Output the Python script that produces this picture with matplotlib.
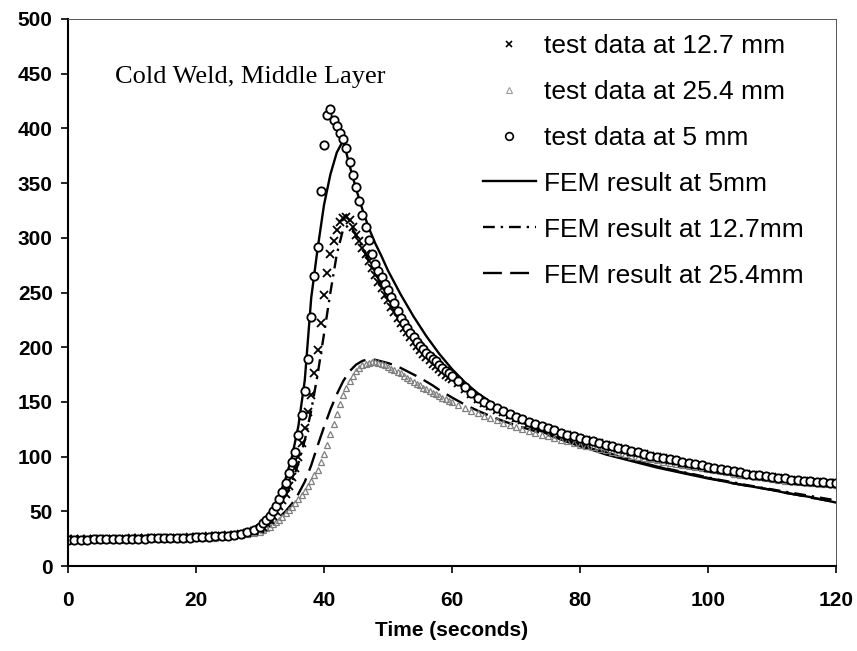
import numpy as np
import matplotlib
matplotlib.use("Agg")
import matplotlib.pyplot as plt
from matplotlib.lines import Line2D

plt.rcParams["font.family"] = ["Liberation Sans", "DejaVu Sans"]

# thermocouple logger clock (s): 1 s before the arc arrives, 0.5 s through the pass
t_test = np.concatenate([np.arange(0, 30, 1.0),
                         np.arange(30, 60.5, 0.5),
                         np.arange(61, 121, 1.0)])

# measured temperatures (C), middle layer of the cold weld
test_5mm = [
    24.0, 24.0, 24.0, 24.0, 24.5, 24.5, 24.5, 24.5, 25.0, 25.0,
    25.0, 25.0, 25.0, 25.5, 25.5, 25.5, 25.5, 26.0, 26.0, 26.0,
    26.5, 26.5, 26.5, 27.0, 27.0, 27.5, 28.5, 29.5, 31.0, 33.0,
    # 30 .. 60 s
    36, 39, 42, 46, 50, 55, 61, 68, 76, 85,
    95, 104, 120, 138, 160, 189, 228, 265, 292, 343,
    385, 412, 418, 408, 402, 396, 390, 382, 369, 357,
    346, 334, 321, 310, 298, 285, 276, 270, 264, 258,
    252, 246, 240, 233, 227, 222, 217.5, 213, 209, 205,
    201, 198, 195, 192, 189.5, 187, 184, 181, 178.5, 176,
    173.5,
    # 61 .. 120 s
    169, 163.5, 158, 154, 150, 147, 144, 141.5, 139, 136.5,
    134, 132, 130, 128, 126, 124, 122, 120, 118.5, 117,
    115.5, 114, 112.5, 111, 109.5, 108, 106.5, 105, 104, 102.5,
    101, 100, 99, 97.5, 96.5, 95, 94, 93, 92, 90.5,
    89.5, 88.5, 87.5, 86.5, 85.5, 84.5, 83.5, 83, 82, 81.5,
    80.5, 80, 79, 78.5, 78, 77.5, 77, 76.5, 76, 76,
]

test_12mm = [
    24.5, 24.5, 24.5, 24.5, 24.5, 25.0, 25.0, 25.0, 25.0, 25.0,
    25.5, 25.5, 25.5, 25.5, 25.5, 26.0, 26.0, 26.0, 26.0, 26.5,
    26.5, 26.5, 27.0, 27.0, 27.5, 28.0, 28.5, 29.5, 30.5, 32.0,
    34, 36, 39, 42, 46, 50, 55, 60, 66, 73,
    81, 90, 100, 112, 126, 141, 156, 176, 197, 222,
    248, 268, 285, 297, 307, 314, 318, 319, 316, 310,
    303, 297, 291, 285, 279, 272, 266, 260, 254, 248,
    243, 237, 232, 227, 222, 218, 213.5, 209, 205, 201,
    197.5, 194, 191, 188, 185, 182.5, 180, 177.5, 175, 173,
    171,
    167, 162, 157, 153, 149, 146, 143, 140.5, 138, 135.5,
    133, 131, 129, 127, 125, 123, 121, 119.5, 118, 116.5,
    115, 113.5, 112, 110.5, 109, 107.5, 106, 104.5, 103.5, 102,
    100.5, 99.5, 98.5, 97, 96, 94.5, 93.5, 92.5, 91.5, 90,
    89, 88, 87, 86, 85, 84, 83, 82.5, 81.5, 81,
    80, 79.5, 78.5, 78, 77.5, 77, 76.5, 76, 75.5, 75.5,
]

test_25mm = [
    23.5, 23.5, 23.5, 23.5, 23.5, 24.0, 24.0, 24.0, 24.0, 24.0,
    24.5, 24.5, 24.5, 24.5, 24.5, 25.0, 25.0, 25.0, 25.0, 25.5,
    25.5, 25.5, 26.0, 26.0, 26.5, 27.0, 27.5, 28.0, 29.0, 30.0,
    31.5, 33, 34.5, 36, 38, 40, 42.5, 45, 48, 51,
    54, 57.5, 61, 65, 69, 73.5, 78, 83, 88, 95,
    102, 111, 121, 130, 139, 148, 156, 163, 169, 174,
    178, 181, 183.5, 185, 186, 186.5, 186.5, 186, 185, 183.5,
    182, 180.5, 179, 177.5, 176, 174, 172, 170, 168, 166.5,
    165, 163, 161.5, 160, 158.5, 157, 155.5, 154, 152.5, 151,
    149.5,
    147, 144.5, 142, 139.5, 137, 135, 133, 131, 129, 127,
    125, 123, 121.5, 120, 118.5, 117, 115.5, 114, 112.5, 111,
    110, 108.5, 107, 106, 104.5, 103.5, 102, 101, 100, 98.5,
    97.5, 96.5, 95.5, 94.5, 93.5, 92.5, 91.5, 90.5, 89.5, 88.5,
    87.5, 86.5, 85.5, 84.5, 83.5, 83, 82, 81, 80.5, 79.5,
    79, 78, 77.5, 77, 76.5, 76, 75.5, 75, 74.5, 74,
]

# FEM output times (s)
t_fem = np.concatenate([[0, 5, 10, 15, 20, 24, 26, 28],
                        np.arange(29, 61),
                        np.arange(62, 121, 2)])

fem_5mm = [
    24, 24.5, 25, 25.5, 26, 27, 28.5, 32,
    35, 39, 45, 53, 64, 80, 100, 128, 170, 245,
    290, 330, 358, 378, 389, 366, 345, 326, 309, 295,
    283, 270, 259, 248, 238, 228, 219, 210, 202, 194,
    187, 180,
    168, 158, 150, 142, 135, 128, 123, 118, 113.5, 109.5,
    106, 102, 99, 96, 93, 90, 87.5, 85, 82.5, 80,
    78, 75.5, 73.5, 71.5, 69.5, 67, 65, 63, 60.5, 58,
]

fem_12mm = [
    24.5, 25, 25.5, 26, 26.5, 27.5, 28.5, 31,
    33, 36, 40, 46, 54, 64, 77, 94, 115, 142,
    175, 212, 250, 285, 308, 312, 303, 291, 279, 268,
    257, 247, 238, 229, 221, 213, 206, 199, 193, 187,
    181, 176,
    166, 157.5, 150, 143, 136, 130, 124.5, 119.5, 115, 111,
    107, 103.5, 100, 97, 94, 91, 88.5, 86, 83.5, 81,
    78.5, 76.5, 74, 72, 70, 68, 66, 64, 62, 60,
]

fem_25mm = [
    24, 24, 24.5, 25, 25.5, 26.5, 27.5, 30,
    32, 34, 37, 40.5, 44.5, 50, 57, 66, 77, 92,
    110, 127, 143, 157, 169, 178, 184, 187.5, 189, 188.5,
    187, 185.5, 183.5, 181, 178, 175, 172, 168.5, 165, 161,
    157.5, 154,
    147.5, 142, 137, 132.5, 128.5, 125, 121.5, 118, 114.5, 111,
    107.5, 104, 100.5, 97, 94, 91, 88, 85.5, 83, 80.5,
    78, 75.5, 73.5, 71.5, 69.5, 67, 65, 62.5, 60.5, 58.5,
]

x_ticks = [0, 20, 40, 60, 80, 100, 120]
y_ticks = [0, 50, 100, 150, 200, 250, 300, 350, 400, 450, 500]

W, H = 857, 651
fig = plt.figure(figsize=(W / 100, H / 100), dpi=100)
ax = fig.add_axes([68 / W, 1 - 566 / H, (836 - 68) / W, (566 - 19) / H])

dashdot = (5, 2.5, 1, 2.5)
dashed = (8, 3.5)

ax.plot(t_fem, fem_5mm, color="black", lw=1.7, solid_joinstyle="round")
ax.plot(t_fem, fem_12mm, color="black", lw=1.7, dashes=dashdot)
ax.plot(t_fem, fem_25mm, color="black", lw=1.7, dashes=dashed)

ax.plot(t_test, test_25mm, ls="none", marker="^", ms=4.5, mfc="none",
        mec="#7f7f7f", mew=0.9)
ax.plot(t_test, test_12mm, ls="none", marker="x", ms=5.5, mec="black", mew=1.3)
ax.plot(t_test, test_5mm, ls="none", marker="o", ms=6, mfc="white",
        mec="black", mew=1.3)

ax.set_xlim(0, 120)
ax.set_ylim(0, 500)
ax.set_xticks(x_ticks)
ax.set_yticks(y_ticks)
ax.tick_params(direction="out", length=5, width=1.2, labelsize=15,
               top=False, right=False)
ax.tick_params(axis="x", pad=13)
ax.tick_params(axis="y", pad=6)
for lab in ax.get_xticklabels() + ax.get_yticklabels():
    lab.set_fontweight("bold")

for side in ("left", "bottom"):
    ax.spines[side].set_linewidth(1.5)
for side in ("top", "right"):
    ax.spines[side].set_linewidth(0.7)
    ax.spines[side].set_color("#555555")

ax.set_xlabel("Time (seconds)", fontsize=15, fontweight="bold", labelpad=8)

ax.text(7.3, 447, "Cold Weld, Middle Layer", fontsize=19,
        family=["Liberation Serif", "DejaVu Serif"], va="center", ha="left")

handles = [
    Line2D([], [], ls="none", marker="x", ms=5, mec="black", mew=1.2),
    Line2D([], [], ls="none", marker="^", ms=4, mfc="none", mec="#9a9a9a", mew=0.8),
    Line2D([], [], ls="none", marker="o", ms=5.5, mfc="white", mec="black", mew=1.2),
    Line2D([], [], color="black", lw=1.7),
    Line2D([], [], color="black", lw=1.7, dashes=dashdot),
    Line2D([], [], color="black", lw=1.7, dashes=dashed),
]
labels = [
    "test data at 12.7 mm",
    "test data at 25.4 mm",
    "test data at 5 mm",
    "FEM result at 5mm",
    "FEM result at 12.7mm",
    "FEM result at 25.4mm",
]
ax.legend(handles, labels, loc="upper left",
          bbox_to_anchor=(483 / W, 1 - 34 / H), bbox_transform=fig.transFigure,
          frameon=False, fontsize=19, handlelength=2.0, handletextpad=0.3,
          labelspacing=0.83, borderpad=0, borderaxespad=0)

fig.savefig("out.png", dpi=100)
